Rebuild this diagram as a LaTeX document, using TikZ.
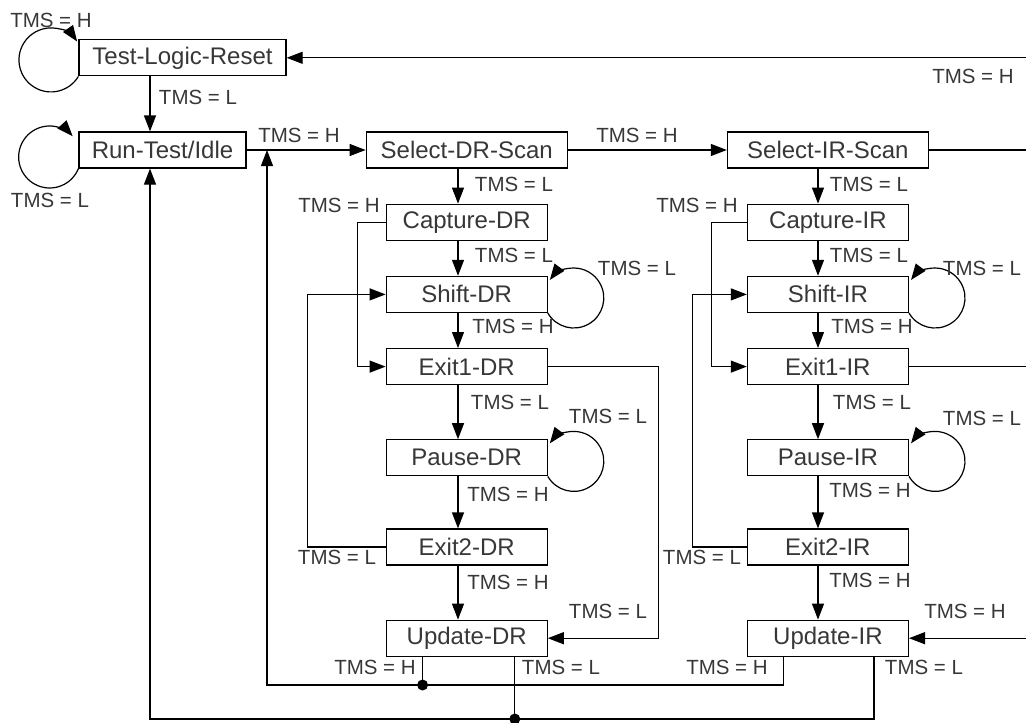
\documentclass[tikz,border=0pt]{standalone}
\usepackage{fontspec}
\setmainfont{Liberation Sans}
\usetikzlibrary{arrows.meta, positioning}
\definecolor{tapgrau}{RGB}{55, 55, 55}

\begin{document}
\begin{tikzpicture}[
    x=1pt, y=-1pt,
    state/.style={draw, line width=1.2pt, minimum width=161pt, minimum height=36pt, inner sep=0pt, text=tapgrau, font=\fontsize{24}{28}\selectfont},
    lab/.style={inner sep=0pt, text=tapgrau, font=\fontsize{20.5}{24}\selectfont},
    wire/.style={line width=1.2pt},
    tip/.style={wire, -{Triangle[length=16pt, width=12pt]}},
    dot/.style={circle, fill, inner sep=0pt, minimum size=11pt}
]
    \useasboundingbox (0,0) rectangle (1026,723);

    % Zustaende
    \node[state, minimum width=167pt] (rti) at (162.5,150) {Run-Test/Idle};
    \node[state, minimum width=207pt, above right=55pt and 0pt of rti.north west] (tlr) {Test-Logic-Reset};
    \node[state, minimum width=201pt, right=119pt of rti] (seldr) {Select-DR-Scan};
    \node[state, minimum width=201pt, right=159pt of seldr] (selir) {Select-IR-Scan};

    % DR-Zweig
    \node[state, below=35pt of seldr] (capdr) {Capture-DR};
    \node[state, below=35pt of capdr] (shiftdr) {Shift-DR};
    \node[state, below=35pt of shiftdr] (exit1dr) {Exit1-DR};
    \node[state, below=54pt of exit1dr] (pausedr) {Pause-DR};
    \node[state, below=52pt of pausedr] (exit2dr) {Exit2-DR};
    \node[state, below=54pt of exit2dr] (updatedr) {Update-DR};

    % IR-Zweig
    \node[state, below=35pt of selir] (capir) {Capture-IR};
    \node[state, below=35pt of capir] (shiftir) {Shift-IR};
    \node[state, below=35pt of shiftir] (exit1ir) {Exit1-IR};
    \node[state, below=54pt of exit1ir] (pauseir) {Pause-IR};
    \node[state, below=52pt of pauseir] (exit2ir) {Exit2-IR};
    \node[state, below=54pt of exit2ir] (updateir) {Update-IR};

    % Hilfspunkte
    \coordinate (rtx) at (150,0);
    \coordinate (drx) at (458,0);
    \coordinate (irx) at (818,0);
    \coordinate (edge) at (1026,0);
    \coordinate (hret) at (267,685);
    \coordinate (lret) at (150,719);
    \coordinate (udrh) at ([xshift=37pt]updatedr.south west);
    \coordinate (udrl) at ([xshift=-33pt]updatedr.south east);
    \coordinate (uirh) at ([xshift=37pt]updateir.south west);
    \coordinate (uirl) at ([xshift=-35pt]updateir.south east);

    % Schleifen
    \draw[tip] (tlr.south west) arc[start angle=-31, end angle=-325, radius=32pt];
    \draw[tip] (rti.south west) arc[start angle=-22, end angle=-318, radius=31pt];
    \draw[tip] (shiftdr.south east) arc[start angle=-150, end angle=143, radius=30pt];
    \draw[tip] (pausedr.south east) arc[start angle=-150, end angle=143, radius=30pt];
    \draw[tip] (shiftir.south east) arc[start angle=-150, end angle=143, radius=30pt];
    \draw[tip] (pauseir.south east) arc[start angle=-150, end angle=143, radius=30pt];

    % Obere Uebergaenge
    \draw[tip] (tlr.south -| rtx) -- (rti.north -| rtx);
    \draw[tip] (rti.east) -- (seldr.west);
    \draw[tip] (seldr.east) -- (selir.west);
    \draw[wire] (selir.east) -- (selir.east -| edge);
    \draw[tip] (tlr.east -| edge) -- (tlr.east);

    % DR-Spalte
    \draw[tip] (seldr.south -| drx) -- (capdr.north -| drx);
    \draw[tip] (capdr.south -| drx) -- (shiftdr.north -| drx);
    \draw[tip] (shiftdr.south -| drx) -- (exit1dr.north -| drx);
    \draw[tip] (exit1dr.south -| drx) -- (pausedr.north -| drx);
    \draw[tip] (pausedr.south -| drx) -- (exit2dr.north -| drx);
    \draw[tip] (exit2dr.south -| drx) -- (updatedr.north -| drx);
    \draw[tip] (capdr.west) -- ++(-28,0) |- (exit1dr.west);
    \draw[tip] (exit2dr.west) -- ++(-78,0) |- (shiftdr.west);
    \draw[tip] (exit1dr.east) -- ++(111,0) |- (updatedr.east);

    % IR-Spalte
    \draw[tip] (selir.south -| irx) -- (capir.north -| irx);
    \draw[tip] (capir.south -| irx) -- (shiftir.north -| irx);
    \draw[tip] (shiftir.south -| irx) -- (exit1ir.north -| irx);
    \draw[tip] (exit1ir.south -| irx) -- (pauseir.north -| irx);
    \draw[tip] (pauseir.south -| irx) -- (exit2ir.north -| irx);
    \draw[tip] (exit2ir.south -| irx) -- (updateir.north -| irx);
    \draw[tip] (capir.west) -- ++(-35,0) |- (exit1ir.west);
    \draw[tip] (exit2ir.west) -- ++(-54,0) |- (shiftir.west);
    \draw[wire] (exit1ir.east) -- (exit1ir.east -| edge);
    \draw[tip] (updateir.east -| edge) -- (updateir.east);

    % Rueckfuehrungen
    \draw[tip] (uirh) |- (hret) -- (hret |- rti.east);
    \draw[tip] (uirl) |- (lret) -- (rti.south -| lret);
    \draw[wire] (udrh) -- (udrh |- hret) node[dot] (hjoin) {};
    \draw[wire] (udrl) -- (udrl |- lret) node[dot] (ljoin) {};

    % Beschriftungen
    \node[lab] (ltlrloop) at (51,20) {TMS = H};
    \node[lab] (ltlrrti) at (198,97) {TMS = L};
    \node[lab] (lrtiloop) at (50,200) {TMS = L};
    \node[lab] (lrtisel) at (299,135) {TMS = H};
    \node[lab] (lselsel) at (637,135) {TMS = H};
    \node[lab] (lreset) at (973,76) {TMS = H};

    \node[lab] (lseldr) at (514,184) {TMS = L};
    \node[lab] (lcapdr) at (514,255) {TMS = L};
    \node[lab] (lshiftdr) at (513,326) {TMS = H};
    \node[lab] (lexit1dr) at (510,402) {TMS = L};
    \node[lab] (lpausedr) at (508,494) {TMS = H};
    \node[lab] (lexit2dr) at (508,582) {TMS = H};
    \node[lab] (lcapdrh) at (339,205) {TMS = H};
    \node[lab] (lexit2drl) at (337,557) {TMS = L};
    \node[lab] (lshiftdrloop) at (637,268) {TMS = L};
    \node[lab] (lpausedrloop) at (608,416) {TMS = L};
    \node[lab] (lexit1drl) at (608,611) {TMS = L};
    \node[lab] (lupdrh) at (375,667) {TMS = H};
    \node[lab] (lupdrl) at (561,667) {TMS = L};

    \node[lab] (lselir) at (869,184) {TMS = L};
    \node[lab] (lcapir) at (869,255) {TMS = L};
    \node[lab] (lshiftir) at (872,326) {TMS = H};
    \node[lab] (lexit1ir) at (872,402) {TMS = L};
    \node[lab] (lpauseir) at (870,490) {TMS = H};
    \node[lab] (lexit2ir) at (870,580) {TMS = H};
    \node[lab] (lcapirh) at (697,205) {TMS = H};
    \node[lab] (lexit2irl) at (702,557) {TMS = L};
    \node[lab] (lshiftirloop) at (982,268) {TMS = L};
    \node[lab] (lpauseirloop) at (982,418) {TMS = L};
    \node[lab] (lupirin) at (965,611) {TMS = H};
    \node[lab] (lupirh) at (727,667) {TMS = H};
    \node[lab] (lupirl) at (924,667) {TMS = L};
\end{tikzpicture}
\end{document}
